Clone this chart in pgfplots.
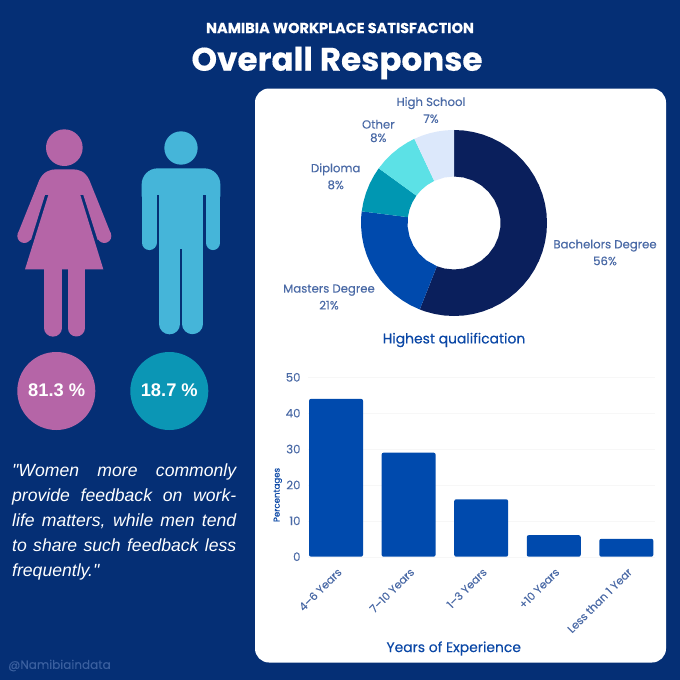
\documentclass[border=0pt]{standalone}
\usepackage{pgfplots}
\pgfplotsset{compat=1.18}
\usepackage{fontspec}
\setmainfont{Poppins}
\newfontfamily\medfont[FakeBold=0.2]{Poppins}
\newfontfamily\titlefont[FakeBold=0.3]{Poppins Bold}
\newfontfamily\arialfont{Liberation Sans}
\definecolor{navy}{HTML}{052F75}
\definecolor{labelblue}{HTML}{4A6AA6}
\definecolor{handleblue}{HTML}{3A5F9F}
\definecolor{headblue}{HTML}{0A47A6}
\definecolor{barblue}{HTML}{004AAD}
\definecolor{woman}{HTML}{B565A7}
\definecolor{man}{HTML}{45B5D9}
\definecolor{tealc}{HTML}{0B96B5}
\definecolor{sliceA}{HTML}{0A1F5C}
\definecolor{sliceB}{HTML}{004AAD}
\definecolor{sliceC}{HTML}{0097B2}
\definecolor{sliceD}{HTML}{5CE1E6}
\definecolor{sliceE}{HTML}{DCE8FB}
\begin{document}
\begin{tikzpicture}
\fill[navy] (0,0) rectangle (680pt,-680pt);

% panel, titles and labels, in pixel coordinates of the reference
\begin{scope}[x=1pt,y=-1pt]
\fill[white,rounded corners=14pt] (255,88.5) rectangle (666,662.5);
\node[white,font=\titlefont\fontsize{14.5}{16}\selectfont] at (340,28) {NAMIBIA WORKPLACE SATISFACTION};
\node[white,font=\titlefont\fontsize{32.6}{36}\selectfont] at (337,63) {Overall Response};

\fill[woman] (56.3,391) circle (39);
\fill[tealc] (169.3,391) circle (39);
\node[white,font=\arialfont\fontsize{18.3}{22}\selectfont\bfseries] at (56.7,390) {81.3 \%};
\node[white,font=\arialfont\fontsize{18.3}{22}\selectfont\bfseries] at (169.3,390) {18.7 \%};

\node[anchor=north west,inner sep=0,white] at (12,463.5) {\parbox{224pt}{\arialfont\itshape\fontsize{17.6}{25}\selectfont
"Women more commonly\linebreak provide feedback on work-\linebreak life matters, while men tend\linebreak to share such feedback less\linebreak frequently."}};
\node[anchor=west,inner sep=0,handleblue,font=\medfont\fontsize{12}{14}\selectfont] at (8,665.5) {@Namibiaindata};

\foreach \tx/\ty/\txt in {605/252.5/{Bachelors Degree\\56\%},329/297/{Masters Degree\\21\%},335.7/176.3/{Diploma\\8\%},431/110/{High School\\7\%}}
  \node[labelblue,align=center,inner sep=0,font=\medfont\fontsize{11.7}{16.8}\selectfont] at (\tx,\ty) {\txt};
\node[labelblue,align=center,inner sep=0,font=\medfont\fontsize{11.7}{13.4}\selectfont] at (378.3,131) {Other\\8\%};
\node[headblue,font=\medfont\fontsize{13.9}{16}\selectfont] at (454,340) {Highest qualification};
\end{scope}

% person icons, in the zoomed coordinates (3 per pixel)
\begin{scope}[x=0.33333pt,y=-0.33333pt,shift={(0,300)}]
\fill[woman] (193,143) circle (55);
\fill[woman] (118,240) .. controls (130,215) and (150,208) .. (168,208) -- (219,208)
  .. controls (238,208) and (256,215) .. (268,240) -- (333,402) -- (293,420)
  -- (250,285) -- (241,285) -- (310,508) -- (75,508) -- (145,285) -- (135,285) -- (93,420) -- (53,402) -- cycle;
\fill[woman] (73,408) circle (21);
\fill[woman] (313,408) circle (21);
\draw[woman,line width=17.3pt,line cap=round] (159,495) -- (159,684);
\draw[woman,line width=17pt,line cap=round] (228.5,495) -- (228.5,684);

\fill[man] (543,144) circle (50);
\fill[man] (425,290) [rounded corners=16pt] -- (425,205) -- (661,205) [sharp corners] -- (661,290) -- (617,285) -- (470,285) -- cycle;
\draw[man,line width=14.8pt,line cap=round] (447.5,270) -- (447.5,428);
\draw[man,line width=14.8pt,line cap=round] (639,270) -- (639,428);
\fill[man] (478,280) rectangle (608,447);
\draw[man,line width=20.7pt,line cap=round] (509,440) -- (509,672);
\draw[man,line width=20.4pt,line cap=round] (577.5,440) -- (577.5,672);
\end{scope}

% donut, shares 56 21 8 8 7 per cent, clockwise from the top; outer radius 93, inner 46.5
\begin{axis}[
    at={(454pt,-223pt)}, anchor=center,
    scale only axis, width=186pt, height=186pt,
    xmin=-93, xmax=93, ymin=-93, ymax=93,
    hide axis, clip=false,
]
\addplot[fill=sliceA,draw=none,data cs=polar] coordinates {
  (90,93)(84,93)(78,93)(72,93)(66,93)(60,93)(54,93)(48,93)(42,93)(36,93)(30,93)(24,93)(18,93)(12,93)(6,93)(0,93)
  (-6,93)(-12,93)(-18,93)(-24,93)(-30,93)(-36,93)(-42,93)(-48,93)(-54,93)(-60,93)(-66,93)(-72,93)(-78,93)(-84,93)
  (-90,93)(-96,93)(-102,93)(-108,93)(-111.6,93)
  (-111.6,46.5)(-102,46.5)(-90,46.5)(-78,46.5)(-66,46.5)(-54,46.5)(-42,46.5)(-30,46.5)(-18,46.5)(-6,46.5)
  (6,46.5)(18,46.5)(30,46.5)(42,46.5)(54,46.5)(66,46.5)(78,46.5)(90,46.5)
} --cycle;
\addplot[fill=sliceB,draw=none,data cs=polar] coordinates {
  (-111.6,93)(-118,93)(-124,93)(-130,93)(-136,93)(-142,93)(-148,93)(-154,93)(-160,93)(-166,93)(-172,93)(-178,93)(-184,93)(-187.2,93)
  (-187.2,46.5)(-175,46.5)(-163,46.5)(-151,46.5)(-139,46.5)(-127,46.5)(-111.6,46.5)
} --cycle;
\addplot[fill=sliceC,draw=none,data cs=polar] coordinates {
  (-187.2,93)(-193,93)(-199,93)(-205,93)(-211,93)(-216,93)
  (-216,46.5)(-206,46.5)(-197,46.5)(-187.2,46.5)
} --cycle;
\addplot[fill=sliceD,draw=none,data cs=polar] coordinates {
  (-216,93)(-222,93)(-228,93)(-234,93)(-240,93)(-244.8,93)
  (-244.8,46.5)(-235,46.5)(-225,46.5)(-216,46.5)
} --cycle;
\addplot[fill=sliceE,draw=none,data cs=polar] coordinates {
  (-244.8,93)(-250,93)(-255,93)(-260,93)(-265,93)(-270,93)
  (-270,46.5)(-258,46.5)(-244.8,46.5)
} --cycle;
\end{axis}

% bars
\begin{axis}[
    at={(308pt,-556.7pt)}, anchor=south west,
    scale only axis, width=347pt, height=179.4pt,
    xmin=-0.386, xmax=4.395, ymin=0, ymax=50,
    ybar, bar width=54pt,
    xtick={0,1,2,3,4},
    xticklabels={4–6 Years,7–10 Years,1–3 Years,+10 Years,Less than 1 Year},
    ytick={0,10,20,30,40,50},
    /pgf/number format/assume math mode=true,
    x tick label style={rotate=45,anchor=east,font=\medfont\fontsize{11}{12}\selectfont,text=labelblue,xshift=-3.5pt,yshift=-12pt},
    y tick label style={font=\medfont\fontsize{11.7}{13}\selectfont,text=labelblue,xshift=-4pt},
    axis line style={draw=none},
    major tick length=0pt,
    ymajorgrids=true,
    grid style={color=black!3},
    ylabel={Percentages},
    ylabel style={at={(axis description cs:-0.087,0.344)},anchor=center,rotate=0,font=\medfont\fontsize{8.6}{10}\selectfont,text=headblue},
    xlabel={Years of Experience},
    xlabel style={at={(axis description cs:0.42,-0.512)},anchor=center,font=\medfont\fontsize{13.9}{16}\selectfont,text=headblue},
]
\addplot[fill=barblue,draw=none,rounded corners=2pt] coordinates {
  (0,44)(1,29)(2,16)(3,6)(4,5) };
\end{axis}
\end{tikzpicture}
\end{document}
